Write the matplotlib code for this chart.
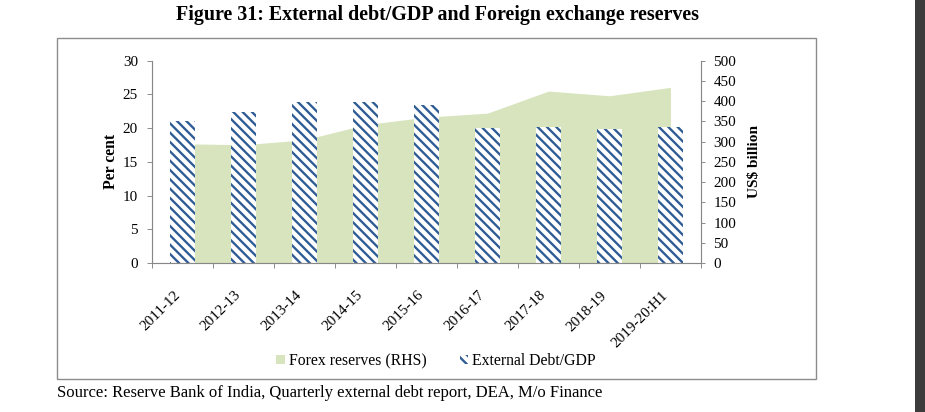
import matplotlib
matplotlib.use("Agg")
import matplotlib.pyplot as plt
from matplotlib.patches import Patch, Rectangle
import numpy as np

categories = ["2011-12", "2012-13", "2013-14", "2014-15", "2015-16",
              "2016-17", "2017-18", "2018-19", "2019-20:H1"]
debt_gdp = [21.1, 22.4, 23.9, 23.8, 23.4, 20.0, 20.1, 19.8, 20.1]
forex_reserves = [294.4, 292.0, 304.2, 341.6, 360.2, 370.0, 424.5, 412.9, 433.7]

W, H, DPI = 925, 412, 84
plt.rcParams['font.family'] = ['Liberation Serif', 'DejaVu Serif']
plt.rcParams['hatch.linewidth'] = 2.0

fig = plt.figure(figsize=(W / DPI, H / DPI), dpi=DPI)
fig.patch.set_facecolor('white')

left, right, top, bottom = 152, 701, 60.5, 263
ax = fig.add_axes([left / W, 1 - bottom / H, (right - left) / W, (bottom - top) / H])
ax2 = ax.twinx()

x = np.arange(len(categories))
green = '#D7E4BD'
blue = '#2F5C95'
axis_col = '#878787'
HATCH = '\\\\\\'

ax2.fill_between(x, forex_reserves, 0, color=green, lw=0)
ax.bar(x, debt_gdp, width=0.4, color='white', edgecolor=blue, hatch=HATCH, lw=0)

ax.set_zorder(ax2.get_zorder() + 1)
ax.patch.set_visible(False)

ax.set_xlim(-0.5, len(categories) - 0.5)
ax.set_ylim(0, 30)
ax2.set_ylim(0, 500)
ax.set_yticks(np.arange(0, 31, 5))
ax2.set_yticks(np.arange(0, 501, 50))

ax.set_xticks(np.arange(-0.5, len(categories), 1.0))
ax.set_xticklabels([])
ax.set_xticks(x, minor=True)
ax.set_xticklabels(categories, minor=True, rotation=45, ha='right',
                   rotation_mode='default', va='top', fontsize=13)
ax.tick_params(axis='x', which='minor', length=0, pad=22)
ax.tick_params(axis='x', which='major', length=4.3, color=axis_col, direction='out')
ax.tick_params(axis='y', length=4.3, color=axis_col, labelsize=13, pad=7.7)
ax2.tick_params(axis='y', length=3.5, color=axis_col, labelsize=13, pad=7)

for a in (ax, ax2):
    for s in a.spines.values():
        s.set_visible(False)
ax.spines['left'].set_visible(True)
ax.spines['bottom'].set_visible(True)
ax2.spines['right'].set_visible(True)
for s in (ax.spines['left'], ax.spines['bottom'], ax2.spines['right']):
    s.set_color(axis_col)
    s.set_linewidth(1.0)

ax.set_ylabel('Per cent', fontsize=13.5, fontweight='bold')
ax.yaxis.set_label_coords(-0.060, 0.5)
ax2.set_ylabel('US$ billion', fontsize=13.2, fontweight='bold')
ax2.yaxis.set_label_coords(1.0856, 0.5)

fig.text(437 / W, 1 - 15 / H, 'Figure 31: External debt/GDP and Foreign exchange reserves',
         ha='center', va='center', fontsize=17.2, fontweight='bold')

handles = [Patch(facecolor=green, edgecolor='none', label='Forex reserves (RHS)'),
           Patch(facecolor='white', edgecolor=blue, hatch=HATCH, lw=0, label='External Debt/GDP')]
fig.legend(handles=handles, loc='center', bbox_to_anchor=(436 / W, 1 - 361 / H), ncol=2,
           frameon=False, fontsize=13.5, handlelength=0.55, handleheight=0.55,
           handletextpad=0.25, columnspacing=2.1)

fig.text(57 / W, 1 - 393 / H, 'Source: Reserve Bank of India, Quarterly external debt report, DEA, M/o Finance',
         ha='left', va='center', fontsize=14.3)

fig.add_artist(Rectangle((57 / W, 1 - 379 / H), (816 - 57) / W, (379 - 38) / H,
                         transform=fig.transFigure, fill=False, ec='#8c8c8c', lw=1.2))
fig.add_artist(Rectangle((915 / W, 0), 10 / W, 1, transform=fig.transFigure,
                         fc='#3c3c3c', ec='none'))

fig.savefig('out.png', dpi=DPI)
